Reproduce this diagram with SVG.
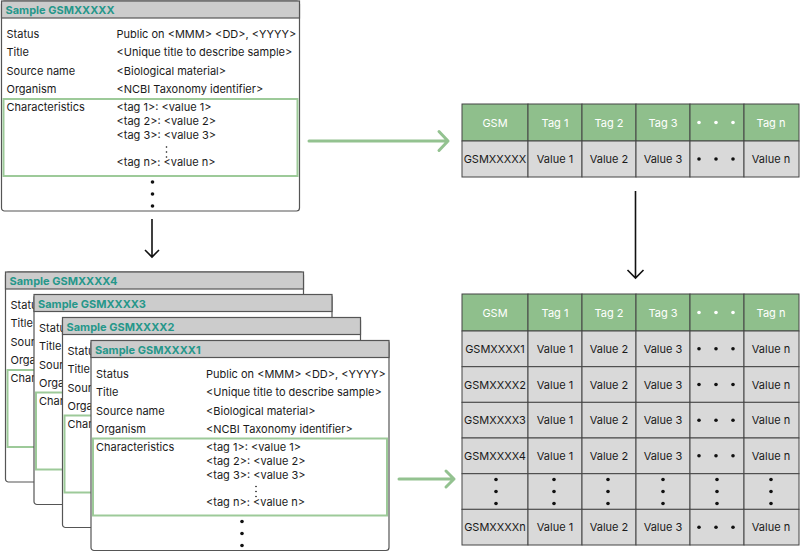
<svg xmlns="http://www.w3.org/2000/svg" width="800" height="552" viewBox="0 0 800 552">
<style>
text{font-family:Inter,"Liberation Sans",Arial,sans-serif;font-size:11px;fill:#1a1a1a}
.hd{font-weight:bold;fill:#26978a}
.card{fill:#fff;stroke:#555;stroke-width:1.2}
.hbar{fill:#cccccc;stroke:#555;stroke-width:1.2}
.gbox{fill:none;stroke:#9dca99;stroke-width:2}
.th{fill:#8fbf8c;stroke:#444;stroke-width:1}
.td{fill:#d9d9d9;stroke:#444;stroke-width:1}
.tht{fill:#fff;text-anchor:middle}
.tdt{text-anchor:middle}
.dot{fill:#111}
.wdot{fill:#fff}
.ga{fill:none;stroke:#93c290;stroke-width:3;stroke-linecap:round;stroke-linejoin:round}
.ba{fill:none;stroke:#111;stroke-width:1.6}
</style>
<defs>
<g id="cardBody">
<text x="5" y="37">Status</text>
<text x="5" y="55">Title</text>
<text x="5" y="74">Source name</text>
<text x="5" y="92">Organism</text>
<text x="5" y="110">Characteristics</text>
<text x="115" y="37">Public on &lt;MMM&gt; &lt;DD&gt;, &lt;YYYY&gt;</text>
<text x="115" y="55">&lt;Unique title to describe sample&gt;</text>
<text x="115" y="74">&lt;Biological material&gt;</text>
<text x="115" y="92">&lt;NCBI Taxonomy identifier&gt;</text>
<rect class="gbox" x="2" y="98" width="294" height="77"/>
<text x="115" y="110">&lt;tag 1&gt;: &lt;value 1&gt;</text>
<text x="115" y="124">&lt;tag 2&gt;: &lt;value 2&gt;</text>
<text x="115" y="138">&lt;tag 3&gt;: &lt;value 3&gt;</text>
<circle class="dot" cx="165" cy="146" r="0.8"/>
<circle class="dot" cx="165" cy="151" r="0.8"/>
<circle class="dot" cx="165" cy="156" r="0.8"/>
<text x="115" y="165">&lt;tag n&gt;: &lt;value n&gt;</text>
<circle class="dot" cx="151" cy="181" r="1.8"/>
<circle class="dot" cx="151" cy="193" r="1.8"/>
<circle class="dot" cx="151" cy="205" r="1.8"/>
</g>
<g id="backBody">
<text x="5" y="37">Status</text>
<text x="5" y="55">Title</text>
<text x="5" y="74">Source name</text>
<text x="5" y="92">Organism</text>
<text x="5" y="110">Characteristics</text>
<rect class="gbox" x="2" y="98" width="294" height="77"/>
</g>
</defs>

<g id="sample-top" transform="translate(1.5,1)">
<rect class="card" x="0" y="0" width="298" height="210" rx="3"/>
<rect class="hbar" x="0" y="0" width="298" height="17"/>
<text class="hd" x="4" y="13">Sample GSMXXXXX</text>
<use href="#cardBody"/>
</g>

<g id="sample-4" transform="translate(5.5,272)">
<rect class="card" x="0" y="0" width="298" height="210" rx="3"/>
<rect class="hbar" x="0" y="0" width="298" height="17"/>
<text class="hd" x="4" y="13">Sample GSMXXXX4</text>
<use href="#backBody"/>
</g>
<g id="sample-3" transform="translate(34,294.5)">
<rect class="card" x="0" y="0" width="298" height="210" rx="3"/>
<rect class="hbar" x="0" y="0" width="298" height="17"/>
<text class="hd" x="4" y="13">Sample GSMXXXX3</text>
<use href="#backBody"/>
</g>
<g id="sample-2" transform="translate(62.5,317.5)">
<rect class="card" x="0" y="0" width="298" height="210" rx="3"/>
<rect class="hbar" x="0" y="0" width="298" height="17"/>
<text class="hd" x="4" y="13">Sample GSMXXXX2</text>
<use href="#backBody"/>
</g>
<g id="sample-1" transform="translate(91,340.5)">
<rect class="card" x="0" y="0" width="298" height="210" rx="3"/>
<rect class="hbar" x="0" y="0" width="298" height="17"/>
<text class="hd" x="4" y="13">Sample GSMXXXX1</text>
<use href="#cardBody"/>
</g>

<g id="table-single">
<rect class="th" x="462" y="104" width="66" height="37"/>
<rect class="th" x="528" y="104" width="54" height="37"/>
<rect class="th" x="582" y="104" width="54" height="37"/>
<rect class="th" x="636" y="104" width="54" height="37"/>
<rect class="th" x="690" y="104" width="54" height="37"/>
<rect class="th" x="744" y="104" width="55" height="37"/>
<text class="tht" x="495" y="126.5">GSM</text>
<text class="tht" x="555" y="126.5">Tag 1</text>
<text class="tht" x="609" y="126.5">Tag 2</text>
<text class="tht" x="663" y="126.5">Tag 3</text>
<circle class="wdot" cx="699" cy="122.5" r="1.8"/><circle class="wdot" cx="716" cy="122.5" r="1.8"/><circle class="wdot" cx="733" cy="122.5" r="1.8"/>
<text class="tht" x="771" y="126.5">Tag n</text>
<rect class="td" x="462" y="141" width="66" height="36"/>
<rect class="td" x="528" y="141" width="54" height="36"/>
<rect class="td" x="582" y="141" width="54" height="36"/>
<rect class="td" x="636" y="141" width="54" height="36"/>
<rect class="td" x="690" y="141" width="54" height="36"/>
<rect class="td" x="744" y="141" width="55" height="36"/>
<text class="tdt" x="495" y="163">GSMXXXXX</text>
<text class="tdt" x="555" y="163">Value 1</text>
<text class="tdt" x="609" y="163">Value 2</text>
<text class="tdt" x="663" y="163">Value 3</text>
<circle class="dot" cx="699" cy="159" r="1.8"/><circle class="dot" cx="716" cy="159" r="1.8"/><circle class="dot" cx="733" cy="159" r="1.8"/>
<text class="tdt" x="771" y="163">Value n</text>
</g>

<g id="table-multi">
<rect class="th" x="462" y="294" width="66" height="37"/>
<rect class="th" x="528" y="294" width="54" height="37"/>
<rect class="th" x="582" y="294" width="54" height="37"/>
<rect class="th" x="636" y="294" width="54" height="37"/>
<rect class="th" x="690" y="294" width="54" height="37"/>
<rect class="th" x="744" y="294" width="55" height="37"/>
<text class="tht" x="495" y="316.5">GSM</text>
<text class="tht" x="555" y="316.5">Tag 1</text>
<text class="tht" x="609" y="316.5">Tag 2</text>
<text class="tht" x="663" y="316.5">Tag 3</text>
<circle class="wdot" cx="699" cy="312.5" r="1.8"/><circle class="wdot" cx="716" cy="312.5" r="1.8"/><circle class="wdot" cx="733" cy="312.5" r="1.8"/>
<text class="tht" x="771" y="316.5">Tag n</text>

<g id="rows">
<rect class="td" x="462" y="331" width="66" height="35.7"/><rect class="td" x="528" y="331" width="54" height="35.7"/><rect class="td" x="582" y="331" width="54" height="35.7"/><rect class="td" x="636" y="331" width="54" height="35.7"/><rect class="td" x="690" y="331" width="54" height="35.7"/><rect class="td" x="744" y="331" width="55" height="35.7"/>
<rect class="td" x="462" y="366.7" width="66" height="35.7"/><rect class="td" x="528" y="366.7" width="54" height="35.7"/><rect class="td" x="582" y="366.7" width="54" height="35.7"/><rect class="td" x="636" y="366.7" width="54" height="35.7"/><rect class="td" x="690" y="366.7" width="54" height="35.7"/><rect class="td" x="744" y="366.7" width="55" height="35.7"/>
<rect class="td" x="462" y="402.3" width="66" height="35.7"/><rect class="td" x="528" y="402.3" width="54" height="35.7"/><rect class="td" x="582" y="402.3" width="54" height="35.7"/><rect class="td" x="636" y="402.3" width="54" height="35.7"/><rect class="td" x="690" y="402.3" width="54" height="35.7"/><rect class="td" x="744" y="402.3" width="55" height="35.7"/>
<rect class="td" x="462" y="438" width="66" height="35.7"/><rect class="td" x="528" y="438" width="54" height="35.7"/><rect class="td" x="582" y="438" width="54" height="35.7"/><rect class="td" x="636" y="438" width="54" height="35.7"/><rect class="td" x="690" y="438" width="54" height="35.7"/><rect class="td" x="744" y="438" width="55" height="35.7"/>
<rect class="td" x="462" y="473.7" width="66" height="35.7"/><rect class="td" x="528" y="473.7" width="54" height="35.7"/><rect class="td" x="582" y="473.7" width="54" height="35.7"/><rect class="td" x="636" y="473.7" width="54" height="35.7"/><rect class="td" x="690" y="473.7" width="54" height="35.7"/><rect class="td" x="744" y="473.7" width="55" height="35.7"/>
<rect class="td" x="462" y="509.3" width="66" height="35.7"/><rect class="td" x="528" y="509.3" width="54" height="35.7"/><rect class="td" x="582" y="509.3" width="54" height="35.7"/><rect class="td" x="636" y="509.3" width="54" height="35.7"/><rect class="td" x="690" y="509.3" width="54" height="35.7"/><rect class="td" x="744" y="509.3" width="55" height="35.7"/>
</g>

<text class="tdt" x="495" y="352.8">GSMXXXX1</text><text class="tdt" x="555" y="352.8">Value 1</text><text class="tdt" x="609" y="352.8">Value 2</text><text class="tdt" x="663" y="352.8">Value 3</text><text class="tdt" x="771" y="352.8">Value n</text>
<circle class="dot" cx="699" cy="348.8" r="1.8"/><circle class="dot" cx="716" cy="348.8" r="1.8"/><circle class="dot" cx="733" cy="348.8" r="1.8"/>
<text class="tdt" x="495" y="388.5">GSMXXXX2</text><text class="tdt" x="555" y="388.5">Value 1</text><text class="tdt" x="609" y="388.5">Value 2</text><text class="tdt" x="663" y="388.5">Value 3</text><text class="tdt" x="771" y="388.5">Value n</text>
<circle class="dot" cx="699" cy="384.5" r="1.8"/><circle class="dot" cx="716" cy="384.5" r="1.8"/><circle class="dot" cx="733" cy="384.5" r="1.8"/>
<text class="tdt" x="495" y="424.2">GSMXXXX3</text><text class="tdt" x="555" y="424.2">Value 1</text><text class="tdt" x="609" y="424.2">Value 2</text><text class="tdt" x="663" y="424.2">Value 3</text><text class="tdt" x="771" y="424.2">Value n</text>
<circle class="dot" cx="699" cy="420.2" r="1.8"/><circle class="dot" cx="716" cy="420.2" r="1.8"/><circle class="dot" cx="733" cy="420.2" r="1.8"/>
<text class="tdt" x="495" y="459.8">GSMXXXX4</text><text class="tdt" x="555" y="459.8">Value 1</text><text class="tdt" x="609" y="459.8">Value 2</text><text class="tdt" x="663" y="459.8">Value 3</text><text class="tdt" x="771" y="459.8">Value n</text>
<circle class="dot" cx="699" cy="455.8" r="1.8"/><circle class="dot" cx="716" cy="455.8" r="1.8"/><circle class="dot" cx="733" cy="455.8" r="1.8"/>
<g class="dot">
<circle cx="496" cy="479.5" r="1.8"/><circle cx="496" cy="491.5" r="1.8"/><circle cx="496" cy="503.5" r="1.8"/>
<circle cx="554" cy="479.5" r="1.8"/><circle cx="554" cy="491.5" r="1.8"/><circle cx="554" cy="503.5" r="1.8"/>
<circle cx="608" cy="479.5" r="1.8"/><circle cx="608" cy="491.5" r="1.8"/><circle cx="608" cy="503.5" r="1.8"/>
<circle cx="663" cy="479.5" r="1.8"/><circle cx="663" cy="491.5" r="1.8"/><circle cx="663" cy="503.5" r="1.8"/>
<circle cx="717" cy="479.5" r="1.8"/><circle cx="717" cy="491.5" r="1.8"/><circle cx="717" cy="503.5" r="1.8"/>
<circle cx="771" cy="479.5" r="1.8"/><circle cx="771" cy="491.5" r="1.8"/><circle cx="771" cy="503.5" r="1.8"/>
</g>
<text class="tdt" x="495" y="531.2">GSMXXXXn</text><text class="tdt" x="555" y="531.2">Value 1</text><text class="tdt" x="609" y="531.2">Value 2</text><text class="tdt" x="663" y="531.2">Value 3</text><text class="tdt" x="771" y="531.2">Value n</text>
<circle class="dot" cx="699" cy="527.2" r="1.8"/><circle class="dot" cx="716" cy="527.2" r="1.8"/><circle class="dot" cx="733" cy="527.2" r="1.8"/>
</g>

<g id="connectors">
<path class="ga" d="M309 141H448M439 131.5L448 141L439 150.5"/>
<path class="ga" d="M399 479H454M446 471L454 479L446 487"/>
<path class="ba" d="M152 219V257M145 250L152 257L159 250"/>
<path class="ba" d="M635.5 191V278M627.5 270L635.5 278L643.5 270"/>
</g>
</svg>
